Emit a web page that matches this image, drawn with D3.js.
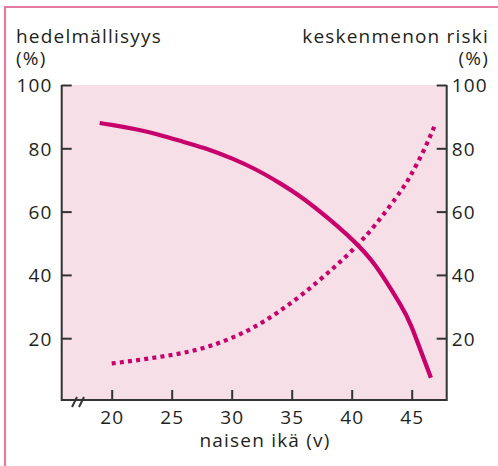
<!DOCTYPE html>
<html>
<head>
<meta charset="utf-8">
<script src="https://cdn.jsdelivr.net/npm/d3@7"></script>
<style>
  body { margin: 0; background: #fff; }
  text { font-family: "Open Sans", "Noto Sans", sans-serif; fill: #231f20; letter-spacing: 1.2px; }
</style>
</head>
<body>
<div id="chart"></div>
<script>
// fertility (solid) and miscarriage risk (dotted)
var fertAge  = [19, 20, 22, 24, 26, 28, 30, 32, 34, 36, 38, 40, 42, 44, 45, 46.6]
var fertVal  = [88, 87.4, 86, 84.2, 82, 79.7, 76.8, 73.3, 69, 64, 58, 51.3, 42.8, 31, 23.5, 7.5]
var missAge  = [20, 22, 24, 26, 28, 30, 32, 34, 36, 38, 40, 42, 44, 45, 46, 46.9]
var missVal  = [12, 13, 14.1, 15.4, 17.3, 20.1, 23.8, 28.6, 34.2, 40.6, 47.6, 56, 66, 72, 79.3, 87]
var xTicks = [20, 25, 30, 35, 40, 45]
var yTicks = [20, 40, 60, 80, 100]

var width = 498, height = 466;
var lineColor = "#c8006c";
var axisColor = "#333";
var fontSize = "19px";

var svg = d3.select("#chart")
    .append("svg")
    .attr("width", width)
    .attr("height", height);

var xScale = d3.scaleLinear()
    .domain([20, 45])
    .range([111.7, 411.7]);

var yScale = d3.scaleLinear()
    .domain([0, 100])
    .range([401.5, 85]);

var plotLeft = 61.7, plotRight = 446.7, plotTop = yScale(100), plotBottom = 400;

// outer frame (top + left edge only)
svg.append("path")
    .attr("d", `M5,466 L5,7 L498,7`)
    .style("fill", "none")
    .style("stroke", "#e27aa2")
    .style("stroke-width", 2.2);

// plot background
svg.append("rect")
    .attr("x", plotLeft)
    .attr("y", plotTop)
    .attr("width", plotRight - plotLeft)
    .attr("height", plotBottom - plotTop)
    .style("fill", "#f6dfe7");

// curves
var fertLine = d3.line()
    .x((d, i) => xScale(fertAge[i]))
    .y(d => yScale(d))
    .curve(d3.curveNatural);

var missLine = d3.line()
    .x((d, i) => xScale(missAge[i]))
    .y(d => yScale(d))
    .curve(d3.curveNatural);

svg.append("path")
    .attr("d", fertLine(fertVal))
    .style("fill", "none")
    .style("stroke", lineColor)
    .style("stroke-width", 4.2);

svg.append("path")
    .attr("d", missLine(missVal))
    .style("fill", "none")
    .style("stroke", lineColor)
    .style("stroke-width", 4.2)
    .style("stroke-dasharray", "4,4.2");

// axes, ticks pointing inward
var leftAxis = svg.append("g")
    .attr("transform", `translate(${plotLeft},0)`)
    .call(d3.axisLeft(yScale).tickValues(yTicks).tickSizeInner(-10).tickSizeOuter(0));
leftAxis.selectAll("text").attr("x", -9).attr("dy", "0.36em");

var rightAxis = svg.append("g")
    .attr("transform", `translate(${plotRight},0)`)
    .call(d3.axisRight(yScale).tickValues(yTicks).tickSizeInner(-10).tickSizeOuter(0));
rightAxis.selectAll("text").attr("x", 5).attr("dy", "0.36em");

var bottomAxis = svg.append("g")
    .attr("transform", `translate(0,${plotBottom})`)
    .call(d3.axisBottom(xScale).tickValues(xTicks).tickSizeInner(-10).tickSizeOuter(0));
bottomAxis.selectAll("text").attr("y", 23.5).attr("dy", 0);

[leftAxis, rightAxis, bottomAxis].forEach(function(ax) {
    ax.select(".domain").remove();
    ax.selectAll("line").style("stroke", axisColor).style("stroke-width", 2);
    ax.selectAll("text").style("font-size", fontSize).style("fill", "#231f20");
});

// axis frame lines
svg.append("path")
    .attr("d", `M${plotLeft},${plotTop} L${plotLeft},${plotBottom} L${plotRight},${plotBottom} L${plotRight},${plotTop}`)
    .style("fill", "none")
    .style("stroke", axisColor)
    .style("stroke-width", 2);

// axis break marks
svg.selectAll("breakmark")
    .data([0, 7])
    .enter()
    .append("line")
    .attr("x1", d => 72 + d)
    .attr("y1", plotBottom + 7)
    .attr("x2", d => 77 + d)
    .attr("y2", plotBottom - 3)
    .style("stroke", axisColor)
    .style("stroke-width", 2);

// titles
svg.append("text")
    .attr("x", 16)
    .attr("y", 43)
    .text("hedelmällisyys")
    .style("font-size", fontSize);

svg.append("text")
    .attr("x", 16)
    .attr("y", 65)
    .text("(%)")
    .style("font-size", fontSize);

svg.append("text")
    .attr("x", 489)
    .attr("y", 43)
    .attr("text-anchor", "end")
    .text("keskenmenon riski")
    .style("font-size", fontSize);

svg.append("text")
    .attr("x", 489)
    .attr("y", 65)
    .attr("text-anchor", "end")
    .text("(%)")
    .style("font-size", fontSize);

svg.append("text")
    .attr("x", 265)
    .attr("y", 447)
    .attr("text-anchor", "middle")
    .text("naisen ikä (v)")
    .style("font-size", fontSize);
</script>
</body>
</html>
